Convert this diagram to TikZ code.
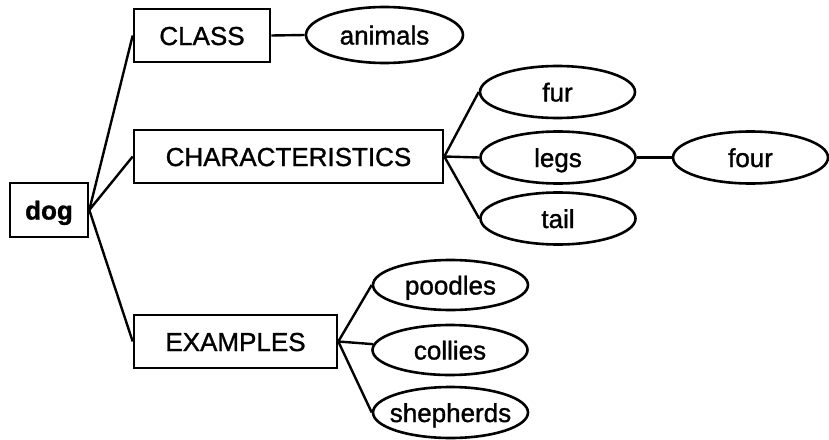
\documentclass[tikz,border=0pt]{standalone}
\usepackage{fontspec}
\setmainfont{Liberation Sans}[FakeBold=1.2]
\usetikzlibrary{shapes.geometric}
% zero-width box so the oval keeps its set size
\newcommand\ovaltext[1]{\makebox[0pt]{#1}}
\begin{document}
\begin{tikzpicture}[x=1pt,y=-1pt,
  every node/.style={font=\fontsize{26}{30}\selectfont, text height=19pt, text depth=0pt, inner sep=0pt, line width=2.6pt},
  concept/.style={draw, rectangle, minimum height=53pt},
  oval/.style={draw, ellipse, minimum width=155pt, minimum height=52pt},
  link/.style={line width=2.4pt}]
  \useasboundingbox (0,0) rectangle (829,439);

  % root and its three slots
  \node[concept, minimum width=78pt, minimum height=54pt, font=\fontsize{26}{30}\selectfont\bfseries] (dog) at (49,210) {dog};
  \node[concept, minimum width=136pt] (class) at (202,35.5) {CLASS};
  \node[concept, minimum width=309pt] (char) at (288.5,156.5) {CHARACTERISTICS};
  \node[concept, minimum width=203pt] (ex) at (235.5,341.5) {EXAMPLES};

  % fillers
  \node[oval, minimum width=157pt, minimum height=56pt] (animals) at (384.5,35) {\ovaltext{animals}};
  \node[oval] (fur) at (557.5,92) {\ovaltext{fur}};
  \node[oval] (legs) at (558,157.5) {\ovaltext{legs}};
  \node[oval] (four) at (750.5,157.5) {\ovaltext{four}};
  \node[oval] (tail) at (558,218.5) {\ovaltext{tail}};
  \node[oval, minimum height=50pt] (poodles) at (450.5,285) {\ovaltext{poodles}};
  \node[oval, minimum height=50pt] (collies) at (450,350) {\ovaltext{collies}};
  \node[oval, minimum height=51pt] (shepherds) at (450.5,412.5) {\ovaltext{shepherds}};

  % connectors
  \draw[link] (dog.east) -- (class.west);
  \draw[link] (dog.east) -- (char.west);
  \draw[link] (dog.east) -- (ex.west);
  \draw[link] (class.east) -- (animals.west);
  \draw[link] (char.east) -- (fur.west);
  \draw[link] (char.east) -- (legs.west);
  \draw[link] (char.east) -- (tail.west);
  \draw[link] (legs.east) -- (four.west);
  \draw[link] (ex.east) -- (poodles.west);
  \draw[link] (ex.east) -- (collies);
  \draw[link] (ex.east) -- (shepherds.west);
\end{tikzpicture}
\end{document}
